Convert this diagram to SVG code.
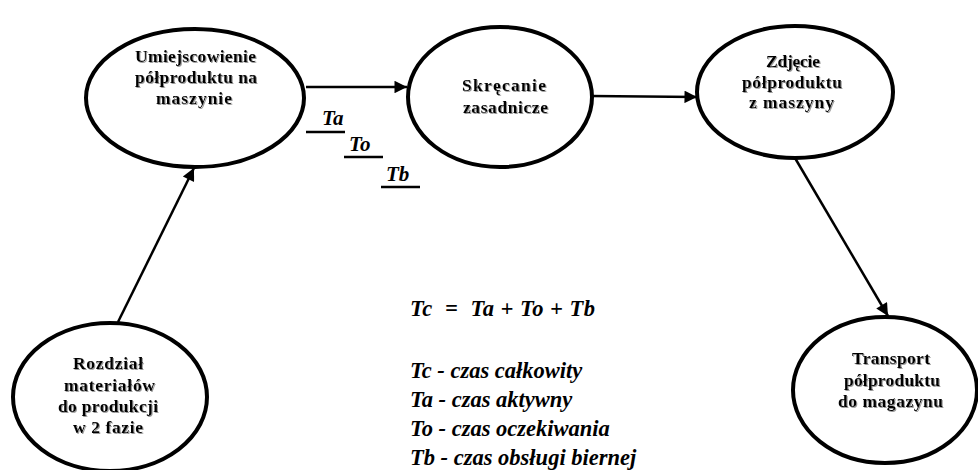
<svg xmlns="http://www.w3.org/2000/svg" width="978" height="470" viewBox="0 0 978 470">
<style>
.node ellipse{fill:#fff;stroke:#000;stroke-width:4}
.nt{font-family:'Liberation Serif','Times New Roman',serif;font-weight:bold;font-size:17.5px;text-anchor:middle;fill:#000;filter:url(#sh)}
.conn line{stroke:#000;stroke-width:2.5;marker-end:url(#ah)}
.lbl{font-family:'Liberation Serif','Times New Roman',serif;font-weight:bold;font-style:italic;font-size:22.5px;fill:#000}
.tl{font-family:'Liberation Serif','Times New Roman',serif;font-weight:bold;font-style:italic;font-size:21px;fill:#000}
.ul{stroke:#000;stroke-width:2.5}
</style>
<defs>
<marker id="ah" viewBox="0 0 10 10" refX="10" refY="5" markerWidth="6" markerHeight="5" markerUnits="strokeWidth" orient="auto">
<path d="M0,0 L10,5 L0,10 z" fill="#000"/>
</marker>
<filter id="sh" x="-10%" y="-20%" width="120%" height="140%">
<feDropShadow dx="1" dy="1" stdDeviation="0.7" flood-color="#808080" flood-opacity="0.8"/>
</filter>
</defs>
<rect width="978" height="470" fill="#fff"/>
<g class="conn">
<line x1="118" y1="322" x2="194" y2="168"/>
<line x1="306" y1="87" x2="407" y2="87"/>
<line x1="591" y1="96" x2="697" y2="97"/>
<line x1="795" y1="158" x2="888" y2="316"/>
</g>
<g id="n1" class="node">
<ellipse cx="195" cy="98" rx="109" ry="69"/>
<text class="nt" x="195.5" y="62" textLength="121">Umiejscowienie</text>
<text class="nt" x="196" y="83" textLength="122">półproduktu na</text>
<text class="nt" x="194" y="104" textLength="76">maszynie</text>
</g>
<g id="n2" class="node">
<ellipse cx="500" cy="97" rx="92" ry="70"/>
<text class="nt" x="504" y="91" textLength="84">Skręcanie</text>
<text class="nt" x="505.5" y="113" textLength="85">zasadnicze</text>
</g>
<g id="n3" class="node">
<ellipse cx="795" cy="92" rx="98" ry="66"/>
<text class="nt" x="793" y="67" textLength="54">Zdjęcie</text>
<text class="nt" x="792" y="88" textLength="100">półproduktu</text>
<text class="nt" x="791.5" y="108" textLength="85">z maszyny</text>
</g>
<g id="n4" class="node">
<ellipse cx="110" cy="397" rx="97" ry="74"/>
<text class="nt" x="108" y="369" textLength="70">Rozdział</text>
<text class="nt" x="109.5" y="391" textLength="91">materiałów</text>
<text class="nt" x="108" y="412" textLength="100">do produkcji</text>
<text class="nt" x="108" y="433" textLength="70">w 2 fazie</text>
</g>
<g id="n5" class="node">
<ellipse cx="885" cy="390" rx="92" ry="73"/>
<text class="nt" x="891" y="364" textLength="78">Transport</text>
<text class="nt" x="892" y="386" textLength="96">półproduktu</text>
<text class="nt" x="890.5" y="407" textLength="105">do magazynu</text>
</g>
<g id="times">
<text class="tl" x="322" y="125">Ta</text>
<line class="ul" x1="306" y1="132" x2="345" y2="132"/>
<text class="tl" x="349" y="151">To</text>
<line class="ul" x1="344" y1="157" x2="383" y2="157"/>
<text class="tl" x="386" y="181">Tb</text>
<line class="ul" x1="381" y1="187" x2="420" y2="187"/>
</g>
<g id="legend">
<text class="lbl" x="410" y="316" xml:space="preserve" textLength="185">Tc  =  Ta + To + Tb</text>
<text class="lbl" x="410" y="378">Tc - czas całkowity</text>
<text class="lbl" x="410" y="407">Ta - czas aktywny</text>
<text class="lbl" x="410" y="436">To - czas oczekiwania</text>
<text class="lbl" x="410" y="465">Tb - czas obsługi biernej</text>
</g>
</svg>
